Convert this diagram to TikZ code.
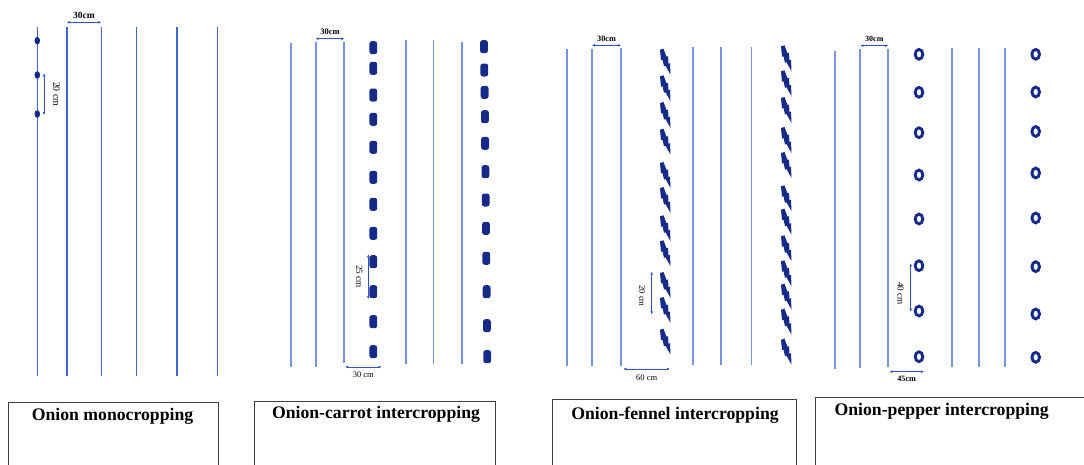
\documentclass[tikz,border=0pt]{standalone}
\usepackage{fontspec}
\setmainfont{Liberation Serif}
\usetikzlibrary{arrows.meta}

\definecolor{rowblue}{RGB}{66,100,205}
\definecolor{rowlight}{RGB}{118,148,222}
\definecolor{plantblue}{RGB}{22,42,135}
\definecolor{dimblue}{RGB}{45,85,195}

\tikzset{
  fennel/.pic={\fill[plantblue] (-5,-12) -- (-1.5,-13) -- (1.5,-5) -- (3,-5.5) -- (3.5,2) -- (5,1.5) -- (5.5,13)
      -- (0.5,4) -- (-1,4.5) -- (-2.5,-2) -- (-4,-1.5) -- cycle;}
}

\begin{document}
\begin{tikzpicture}[x=1pt, y=-1pt,
    row/.style={rowlight, line width=1.9pt},
    dim/.style={dimblue, line width=0.8pt, {Latex[length=3pt,width=2.8pt]}-{Latex[length=3pt,width=2.8pt]}},
    dimlabel/.style={black, font=\fontsize{8.5}{10}\selectfont, inner sep=0pt},
    title/.style={font=\fontsize{17.7}{20}\selectfont\bfseries},
    box/.style={draw=black!75, line width=0.9pt},
    carrot/.style={fill=plantblue, rounded corners=2.5pt},
    pepper/.style={draw=plantblue, line width=2.9pt}]
    \useasboundingbox (0,0) rectangle (1084,464);
    \clip (0,0) rectangle (1084,464);

    % Onion monocropping
    \foreach \x in {37.3,66.7,101.3,136.3,177,217.3}
        \draw[row, rowblue, line width=1.6pt] (\x,27) -- (\x,376);
    \foreach \y in {40.7,75,114}
        \fill[plantblue] (37.3,\y) ellipse (2.8 and 3.8);
    \draw[dim] (66.7,22.3) -- (101.3,22.3) node [dimlabel, midway, yshift=7.3pt, font=\fontsize{9.5}{10}\selectfont\bfseries] {30cm};
    \draw[dim] (44,73.3) -- (44,115) node [dimlabel, midway, xshift=12.7pt, rotate=-90, font=\fontsize{9.8}{10}\selectfont] {20 cm};

    % Onion-carrot intercropping
    \foreach \x/\ya/\yb in {291/43/367,315.7/41.7/367,344.3/41.7/363,406/40/364,433.5/40/364,462/42/364}
        \draw[row] (\x,\ya) -- (\x,\yb);
    \foreach \y in {47.7,68.3,95,119.3,147.3,177.3,204.3,233.3,261.7,291.7,321.7,351.7}
        \fill[carrot] (369.4,\y-6.5) rectangle (377.2,\y+6.5);
    \foreach \x/\y in {484/46.7,484.3/70,484.6/92.3,484.9/116.7,485.1/143.3,485.4/171.7,485.7/200,486/228.3,486.3/258.3,486.6/291.7,486.9/325.7,487.2/356.7}
        \fill[carrot] (\x-3.9,\y-6.5) rectangle (\x+3.9,\y+6.5);
    \draw[dim] (315.7,38.7) -- (344.3,38.7) node [dimlabel, midway, yshift=6.8pt, font=\fontsize{8.5}{10}\selectfont\bfseries] {30cm};
    \draw[dim] (368.3,254.3) -- (368.3,299) node [dimlabel, midway, xshift=-9pt, rotate=-90, font=\fontsize{9.2}{10}\selectfont] {25 cm};
    \draw[dim] (345,367) -- (381.7,367) node [dimlabel, midway, yshift=-8pt] {30 cm};

    % Onion-fennel intercropping
    \foreach \x/\ya/\yb in {567.3/49/366,592/49/366,621/48/366,692.7/47/365,721/47/365,751.5/47/365}
        \draw[row] (\x,\ya) -- (\x,\yb);
    \foreach \y in {61.7,88.3,115,141.7,175,200,228.3,253.3,285,310,341.7}
        \pic at (665,\y) {fennel};
    \foreach \y in {58.3,83.3,110,140,165,198.3,221.7,248.3,273.3,296.7,321.7,351.7}
        \pic at (786,\y) {fennel};
    \draw[dim] (592,45.3) -- (621,45.3) node [dimlabel, midway, yshift=6.5pt, font=\fontsize{8.2}{10}\selectfont\bfseries] {30cm};
    \draw[dim] (651.7,271.7) -- (651.7,314.3) node [dimlabel, midway, xshift=-9.4pt, yshift=-3pt, rotate=-90, font=\fontsize{8.6}{10}\selectfont] {20 cm};
    \draw[dim] (623.3,369) -- (670,369) node [dimlabel, midway, yshift=-8.7pt] {60 cm};

    % Onion-pepper intercropping
    \foreach \x/\ya/\yb in {835.3/50.7/369,860.3/49.3/368,888.3/49.3/367.3,952.3/48/367,979/48/367,1005.3/48/367}
        \draw[row] (\x,\ya) -- (\x,\yb);
    \foreach \y in {54.3,92.3,132.7,175,219,265.7,311,356.7}
        \draw[pepper] (919,\y) ellipse (3.8 and 4.9);
    \foreach \y in {54.3,92,131.5,173,218,266.7,314,357.3}
        \draw[pepper] (1035.7,\y) ellipse (3.8 and 4.9);
    \draw[dim] (860.3,45.7) -- (888.3,45.7) node [dimlabel, midway, yshift=6.7pt, font=\fontsize{8}{10}\selectfont\bfseries] {30cm};
    \draw[dim] (910.7,263.3) -- (910.7,311.7) node [dimlabel, midway, xshift=-10pt, yshift=-6pt, rotate=-90, font=\fontsize{9.2}{10}\selectfont] {40 cm};
    \draw[dim] (889.3,371.7) -- (924,371.7) node [dimlabel, midway, yshift=-7.6pt, font=\fontsize{8.2}{10}\selectfont\bfseries] {45cm};

    % captions
    \draw[box] (8.3,402.3) rectangle (218.3,480);
    \draw[box] (254.3,401) rectangle (495,480);
    \draw[box] (552.3,399) rectangle (796.7,480);
    \draw[box] (815.7,397.3) rectangle (1100,480);
    \node[title] (mono) at (112.5,416.7) {Onion monocropping};
    \node[title] (carrot) at (376,414) {Onion-carrot intercropping};
    \node[title] (fennel) at (675,415) {Onion-fennel intercropping};
    \node[title] (pepper) at (941.7,411.7) {Onion-pepper intercropping};
\end{tikzpicture}
\end{document}
